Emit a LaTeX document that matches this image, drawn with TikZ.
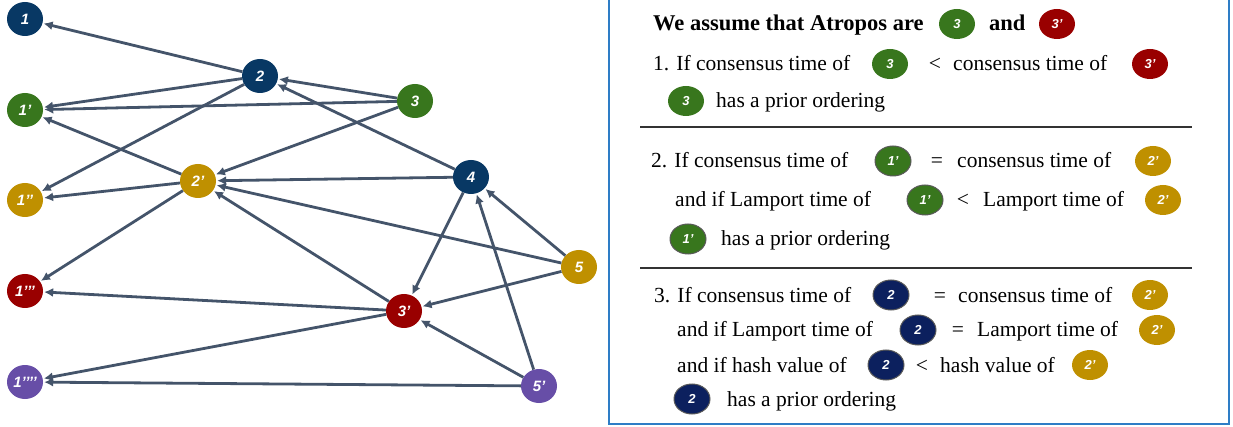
\documentclass[tikz,border=0pt]{standalone}
\usepackage{fontspec}
\setmainfont{Liberation Serif}
\newfontfamily\evfont{Liberation Sans}
\usetikzlibrary{arrows.meta,shapes.geometric}
\definecolor{evnavy}{RGB}{8,56,100}
\definecolor{evgreen}{RGB}{56,118,29}
\definecolor{evgold}{RGB}{191,144,0}
\definecolor{evred}{RGB}{153,0,0}
\definecolor{evpurple}{RGB}{103,78,167}
\definecolor{tagnavy}{RGB}{12,32,94}
\definecolor{edgegray}{RGB}{68,84,106}
\definecolor{boxblue}{RGB}{46,125,198}
\tikzset{
	ev/.style={ellipse,fill=#1,minimum width=36pt,minimum height=34pt,inner sep=0pt,text=white,font=\evfont\bfseries\itshape\fontsize{15}{15}\selectfont},
	tag/.style={ellipse,fill=#1,minimum width=36pt,minimum height=30pt,inner sep=0pt,text=white,font=\evfont\bfseries\itshape\fontsize{13}{13}\selectfont},
	rim/.style={draw=gray!70!black,line width=1pt},
	link/.style={draw=edgegray,line width=2.8pt,-{Latex[length=9pt,width=9pt]},shorten >=1pt},
	txt/.style={font=\fontsize{21.5}{25}\selectfont,anchor=base west,inner sep=0pt},
	sign/.style={font=\fontsize{21.5}{25}\selectfont,anchor=base,inner sep=0pt},
	head/.style={font=\fontsize{22.5}{25}\selectfont\bfseries,anchor=base west,inner sep=0pt},
}
\begin{document}
\begin{tikzpicture}[x=1pt,y=-1pt]
	\useasboundingbox (0,0) rectangle (1233,427);
	\node[ev=evnavy] (n1) at (25,19) {1};
	\node[ev=evgreen] (n1a) at (25,110) {1’};
	\node[ev=evgold] (n1b) at (25,200) {1’’};
	\node[ev=evred] (n1c) at (25,291) {1’’’};
	\node[ev=evpurple] (n1d) at (25,382) {1’’’’};
	\node[ev=evnavy] (n2) at (260,76) {2};
	\node[ev=evgold] (n2a) at (198,181) {2’};
	\node[ev=evgreen] (n3) at (415,101) {3};
	\node[ev=evred] (n3a) at (404,311) {3’};
	\node[ev=evnavy] (n4) at (471,177) {4};
	\node[ev=evgold] (n5) at (579,267) {5};
	\node[ev=evpurple] (n5a) at (539,386) {5’};
	\foreach \s/\t in {n2/n1,n2/n1a,n2/n1b,n3/n2,n3/n1a,n3/n2a,n4/n2,n4/n2a,n4/n3a,n2a/n1a,n2a/n1b,n2a/n1c,n5/n4,n5/n2a,n5/n3a,n3a/n2a,n3a/n1c,n3a/n1d,n5a/n4,n5a/n3a,n5a/n1d}
		\draw[link] (\s) -- (\t);
	\draw[boxblue,line width=2pt] (609,-3) -- (609,424) -- (1229,424) -- (1229,-3);
	\draw[black!80,line width=1.3pt] (640,127) -- (1192,127);
	\draw[black!80,line width=1.3pt] (640,268) -- (1192,268);
	\node[head] (w1) at (653,31) {We assume that Atropos are};
	\node[tag=evgreen] (k1) at (957,24) {3};
	\node[head] (w2) at (989,31) {and};
	\node[tag=evred] (k2) at (1057,24) {3’};
	\node[txt] (p1) at (653,71) {1. If consensus time of};
	\node[tag=evgreen] (k3) at (890,64) {3};
	\node[sign] (s1) at (935,71) {<};
	\node[txt] (p2) at (953,71) {consensus time of};
	\node[tag=evred] (k4) at (1150,64) {3’};
	\node[tag=evgreen] (k5) at (686,101) {3};
	\node[txt] (p3) at (716,108) {has a prior ordering};
	\node[txt] (q1) at (651,168) {2. If consensus time of};
	\node[tag=evgreen,rim] (k6) at (893,161) {1’};
	\node[sign] (s2) at (937,168) {=};
	\node[txt] (q2) at (957,168) {consensus time of};
	\node[tag=evgold] (k7) at (1153,161) {2’};
	\node[txt] (q3) at (675,207) {and if Lamport time of};
	\node[tag=evgreen,rim] (k8) at (925,200) {1’};
	\node[sign] (s3) at (963,207) {<};
	\node[txt] (q4) at (983,207) {Lamport time of};
	\node[tag=evgold] (k9) at (1163,200) {2’};
	\node[tag=evgreen,rim] (k10) at (688,239) {1’};
	\node[txt] (q5) at (721,246) {has a prior ordering};
	\node[txt] (r1) at (654,302) {3. If consensus time of};
	\node[tag=tagnavy,rim] (k11) at (891,295) {2};
	\node[sign] (s4) at (940,302) {=};
	\node[txt] (r2) at (958,302) {consensus time of};
	\node[tag=evgold] (k12) at (1150,295) {2’};
	\node[txt] (r3) at (677,337) {and if Lamport time of};
	\node[tag=tagnavy,rim] (k13) at (918,330) {2};
	\node[sign] (s5) at (958,337) {=};
	\node[txt] (r4) at (977,337) {Lamport time of};
	\node[tag=evgold] (k14) at (1157,330) {2’};
	\node[txt] (r5) at (677,372) {and if hash value of};
	\node[tag=tagnavy,rim] (k15) at (886,365) {2};
	\node[sign] (s6) at (922,372) {<};
	\node[txt] (r6) at (940,372) {hash value of};
	\node[tag=evgold] (k16) at (1090,365) {2’};
	\node[tag=tagnavy,rim] (k17) at (692,399) {2};
	\node[txt] (r7) at (727,406) {has a prior ordering};
\end{tikzpicture}
\end{document}
